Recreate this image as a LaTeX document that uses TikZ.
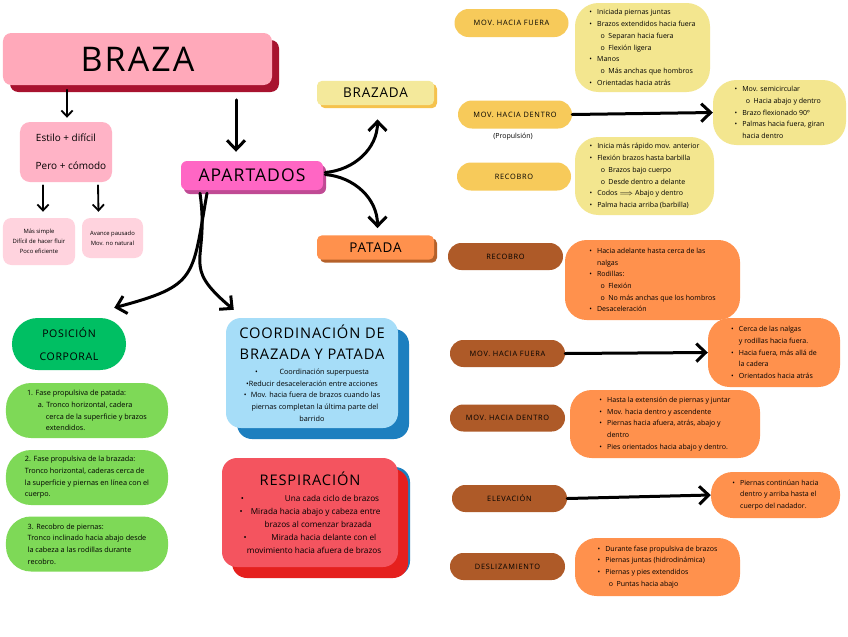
\documentclass[tikz,border=0pt]{standalone}
\usepackage{fontspec}
\setmainfont{Open Sans}
\newfontfamily\headfont[LetterSpace=6]{Open Sans}
\newfontfamily\pillfont[LetterSpace=10]{Open Sans}
\usetikzlibrary{arrows.meta,shadows,calc}

\definecolor{brazaPink}{HTML}{FFA9BA}
\definecolor{brazaDark}{HTML}{A8132F}
\definecolor{softPink}{HTML}{FFB3C6}
\definecolor{palePink}{HTML}{FFD3DE}
\definecolor{apartMagenta}{HTML}{FF66C4}
\definecolor{apartDark}{HTML}{C04A94}
\definecolor{brazYellow}{HTML}{F4E99B}
\definecolor{brazYellowDark}{HTML}{F5C24D}
\definecolor{patOrange}{HTML}{FF914D}
\definecolor{patOrangeDark}{HTML}{B5612A}
\definecolor{greenDark}{HTML}{00BF63}
\definecolor{greenLight}{HTML}{7ED957}
\definecolor{blueLight}{HTML}{A6DDF8}
\definecolor{blueDark}{HTML}{1D7FBF}
\definecolor{redCardFill}{HTML}{F4545F}
\definecolor{redCardDark}{HTML}{E5201E}
\definecolor{tagYellow}{HTML}{F7CA5A}
\definecolor{noteYellow}{HTML}{F3E68F}
\definecolor{tagBrown}{HTML}{AE5A28}
\definecolor{noteOrange}{HTML}{FF914D}

\newcommand{\bul}{\makebox[1.1em][l]{\textbullet}}
\newcommand{\sbul}{\hspace*{1.6em}\makebox[1.1em][l]{o}}
\newcommand{\cnt}{\hspace*{1.1em}}
\newcommand{\cardhead}{\headfont\fontsize{12.5}{21}\selectfont}

\begin{document}
\begin{tikzpicture}[
        x=0.3mm,
        y=-0.3mm,
        titleBox/.style={
            rectangle,
            fill=brazaPink,
            rounded corners=2.5mm,
            general shadow={fill=brazaDark, shadow xshift=2.1mm, shadow yshift=-2.1mm},
            minimum width=80.7mm,
            minimum height=15.6mm,
            font=\headfont\fontsize{29}{32}\selectfont
        },
        pinkBox/.style={
            rectangle,
            fill=softPink,
            rounded corners=3mm,
            minimum width=27.6mm,
            minimum height=18mm,
            align=center,
            font=\fontsize{8.5}{24}\selectfont
        },
        paleBox/.style={
            rectangle,
            fill=palePink,
            rounded corners=2.5mm,
            align=center,
            font=\fontsize{5}{8.5}\selectfont
        },
        apartBox/.style={
            rectangle,
            fill=apartMagenta,
            rounded corners=1.8mm,
            general shadow={fill=apartDark, shadow xshift=0.9mm, shadow yshift=-1.2mm},
            minimum width=42.6mm,
            minimum height=8.7mm,
            font=\headfont\fontsize{15}{17}\selectfont
        },
        sectionTag/.style={
            rectangle,
            rounded corners=1.5mm,
            minimum width=35.1mm,
            minimum height=7.3mm,
            font=\headfont\fontsize{11.5}{13}\selectfont
        },
        greenPill/.style={
            rectangle,
            fill=greenDark,
            rounded corners=7.7mm,
            minimum width=34.2mm,
            minimum height=15.6mm,
            align=center,
            font=\headfont\fontsize{9}{20}\selectfont
        },
        greenNote/.style={
            rectangle,
            fill=greenLight,
            rounded corners=7.5mm,
            minimum width=48.6mm,
            minimum height=16.5mm,
            align=left,
            font=\fontsize{6.2}{10}\selectfont
        },
        bigCard/.style={
            rectangle,
            rounded corners=4.5mm,
            align=center,
            inner sep=1mm
        },
        yellowTag/.style={
            rectangle,
            fill=tagYellow,
            rounded corners=4.2mm,
            minimum width=34.2mm,
            minimum height=8.4mm,
            font=\pillfont\fontsize{6.3}{8}\selectfont
        },
        brownTag/.style={
            rectangle,
            fill=tagBrown,
            rounded corners=4mm,
            minimum width=34.5mm,
            minimum height=8.1mm,
            font=\pillfont\fontsize{6.3}{8}\selectfont
        },
        yellowNote/.style={
            rectangle,
            fill=noteYellow,
            rounded corners=7mm,
            align=left,
            font=\fontsize{6}{10}\selectfont
        },
        orangeNote/.style={
            rectangle,
            fill=noteOrange,
            rounded corners=6.5mm,
            align=left,
            font=\fontsize{6}{10}\selectfont
        },
        thinArrow/.style={
            line width=0.55mm,
            line cap=round,
            -{Straight Barb[length=1.8mm,width=3.4mm]}
        },
        bigArrow/.style={
            line width=0.9mm,
            line cap=round,
            -{Straight Barb[length=2.8mm,width=5.4mm]}
        }
    ]

        \fill[white] (0,0) rectangle (848,636);
        \useasboundingbox (0,0) rectangle (848,636);

        \node[titleBox] (braza) at (137.5,59) {BRAZA};

        \node[pinkBox] (estilo) at (66,152) {Estilo + difícil\\\hspace*{1em}Pero + cómodo};
        \node[paleBox, minimum width=21.6mm, minimum height=14.1mm] (simple) at (39,241.5) {Más simple\\Difícil de hacer fluir\\Poco eficiente};
        \node[paleBox, minimum width=18.3mm, minimum height=12mm] (pausa) at (112.5,238) {Avance pausado\\Mov. no natural};

        \node[apartBox] (apart) at (252,175.5) {APARTADOS};

        \node[sectionTag, fill=brazYellow, general shadow={fill=brazYellowDark, shadow xshift=0.9mm, shadow yshift=-0.9mm}] (brazada) at (375.5,93) {BRAZADA};
        \node[sectionTag, fill=patOrange, general shadow={fill=patOrangeDark, shadow xshift=0.9mm, shadow yshift=-0.9mm}] (patada) at (375.5,247.5) {PATADA};

        \node[greenPill] (posicion) at (69,344) {POSICIÓN\\CORPORAL};

        \node[greenNote] (fase1) at (87,410.5) {1. Fase propulsiva de patada:\\\hspace*{1.5em}a. Tronco horizontal, cadera\\\hspace*{2.6em}cerca de la superficie y brazos\\\hspace*{2.6em}extendidos.};
        \node[greenNote] (fase2) at (87,477.5) {2. Fase propulsiva de la brazada:\\Tronco horizontal, caderas cerca de\\la superficie y piernas en línea con el\\cuerpo.};
        \node[greenNote] (fase3) at (87,544) {3. Recobro de piernas:\\Tronco inclinado hacia abajo desde\\la cabeza a las rodillas durante\\recobro.};

        \node[bigCard, fill=blueLight, minimum width=51.6mm, minimum height=33mm, font=\fontsize{6.2}{10}\selectfont,
            general shadow={fill=blueDark, shadow xshift=3.3mm, shadow yshift=-3.3mm}] (coord) at (312,373)
            {\cardhead COORDINACIÓN DE\\[8pt]
            \cardhead BRAZADA Y PATADA\\[3pt]
            \textbullet\hspace{3em}Coordinación superpuesta\hspace{2em}\\
            \textbullet Reducir desaceleración entre acciones\\
            \textbullet\hspace{0.6em}Mov. hacia fuera de brazos cuando las\\
            \hspace{0.8em}piernas completan la última parte del\\
            barrido};

        \node[bigCard, fill=redCardFill, minimum width=52.8mm, minimum height=32.7mm, font=\fontsize{7}{11}\selectfont,
            general shadow={fill=blueDark, shadow xshift=3.6mm, shadow yshift=-2.7mm},
            general shadow={fill=redCardDark, shadow xshift=3mm, shadow yshift=-3.3mm}] (resp) at (310,512.5)
            {\cardhead RESPIRACIÓN\\[3pt]
            \textbullet\hspace{5em}Una cada ciclo de brazos\hspace{2.5em}\\
            \textbullet\hspace{1em}Mirada hacia abajo y cabeza entre\\
            \hspace{2em}brazos al comenzar brazada\\
            \textbullet\hspace{3em}Mirada hacia delante con el\\
            \hspace{1em}movimiento hacia afuera de brazos};

        \node[yellowTag] (fueraY) at (511.5,23) {MOV. HACIA FUERA};
        \node[yellowTag] (dentroY) at (515,114.5) {MOV. HACIA DENTRO};
        \node[font=\fontsize{6}{7}\selectfont] (propulsion) at (513,137) {(Propulsión)};
        \node[yellowTag] (recobroY) at (514,176.5) {RECOBRO};

        \node[yellowNote, minimum width=40.5mm, minimum height=26.7mm] (notaY1) at (642.5,47.5)
            {\bul Iniciada piernas juntas\\
            \bul Brazos extendidos hacia fuera\\
            \sbul Separan hacia fuera\\
            \sbul Flexión ligera\\
            \bul Manos\\
            \sbul Más anchas que hombros\\
            \bul Orientadas hacia atrás};
        \node[yellowNote, minimum width=39.9mm, minimum height=19.5mm] (notaY2) at (779.5,112.5)
            {\bul Mov. semicircular\\
            \sbul Hacia abajo y dentro\\
            \bul Brazo flexionado 90º\\
            \bul Palmas hacia fuera, giran\\
            \cnt hacia dentro};
        \node[yellowNote, minimum width=41.7mm, minimum height=23.4mm] (notaY3) at (644.5,176)
            {\bul Inicia más rápido mov. anterior\\
            \bul Flexión brazos hasta barbilla\\
            \sbul Brazos bajo cuerpo\\
            \sbul Desde dentro a delante\\
            \bul Codos $\Longrightarrow$ Abajo y dentro\\
            \bul Palma hacia arriba (barbilla)};

        \node[brownTag] (recobroO) at (505.5,256.5) {RECOBRO};
        \node[brownTag] (fueraO) at (507.5,353.5) {MOV. HACIA FUERA};
        \node[brownTag] (dentroO) at (507.5,418) {MOV. HACIA DENTRO};
        \node[brownTag] (elevO) at (509.5,498.5) {ELEVACIÓN};
        \node[brownTag] (deslizO) at (507.5,566.5) {DESLIZAMIENTO};

        \node[orangeNote, minimum width=52.5mm, minimum height=24mm] (notaO1) at (652.5,280)
            {\bul Hacia adelante hasta cerca de las\\
            \cnt nalgas\\
            \bul Rodillas:\\
            \sbul Flexión\\
            \sbul No más anchas que los hombros\\
            \bul Desaceleración};
        \node[orangeNote, minimum width=39.6mm, minimum height=20.7mm] (notaO2) at (774,352.5)
            {\bul Cerca de las nalgas\\
            \cnt y rodillas hacia fuera.\\
            \bul Hacia fuera, más allá de\\
            \cnt la cadera\\
            \bul Orientados hacia atrás};
        \node[orangeNote, minimum width=57mm, minimum height=20.4mm] (notaO3) at (665,424)
            {\bul Hasta la extensión de piernas y juntar\\
            \bul Mov. hacia dentro y ascendente\\
            \bul Piernas hacia afuera, atrás, abajo y\\
            \cnt dentro\\
            \bul Pies orientados hacia abajo y dentro.};
        \node[orangeNote, minimum width=38.7mm, minimum height=13.8mm] (notaO4) at (775.5,495)
            {\bul Piernas continúan hacia\\
            \cnt dentro y arriba hasta el\\
            \cnt cuerpo del nadador.};
        \node[orangeNote, minimum width=49.5mm, minimum height=17.4mm] (notaO5) at (657.5,567)
            {\bul Durante fase propulsiva de brazos\\
            \bul Piernas juntas (hidrodinámica)\\
            \bul Piernas y pies extendidos\\
            \sbul Puntas hacia abajo};

        \draw[thinArrow] ($(estilo.north)+(1,-32)$) -- ($(estilo.north)+(1,-4)$);
        \draw[bigArrow] ($(apart.north)+(-16,-61)$) -- ($(apart.north)+(-16,-9)$);
        \draw[thinArrow] ($(estilo.south)+(-23,3)$) -- ($(simple.north)+(4,-6)$);
        \draw[thinArrow] ($(estilo.south)+(32,3)$) -- ($(pausa.north)+(-14,-6)$);

        \draw[bigArrow] ($(apart.east)+(2,-3)$) to[out=5,in=-90] ($(brazada.south)+(2,14)$);
        \draw[bigArrow] ($(apart.east)+(2,-1)$) to[out=-5,in=90] ($(patada.north)+(2,-7)$);

        \draw[bigArrow] ($(apart.south)+(-45,3)$) to[out=-100,in=15,looseness=1.5] ($(posicion.north east)+(-12,-10)$);
        \draw[bigArrow] ($(apart.south)+(-52,3)$) to[out=-82,in=140,looseness=1.5] ($(coord.north west)+(8,-8)$);

        \draw[bigArrow] (dentroY.east) -- (notaY2.west);
        \draw[bigArrow] (fueraO.east) -- (notaO2.west);
        \draw[bigArrow] (elevO.east) -- (notaO4.west);

    \end{tikzpicture}
\end{document}
